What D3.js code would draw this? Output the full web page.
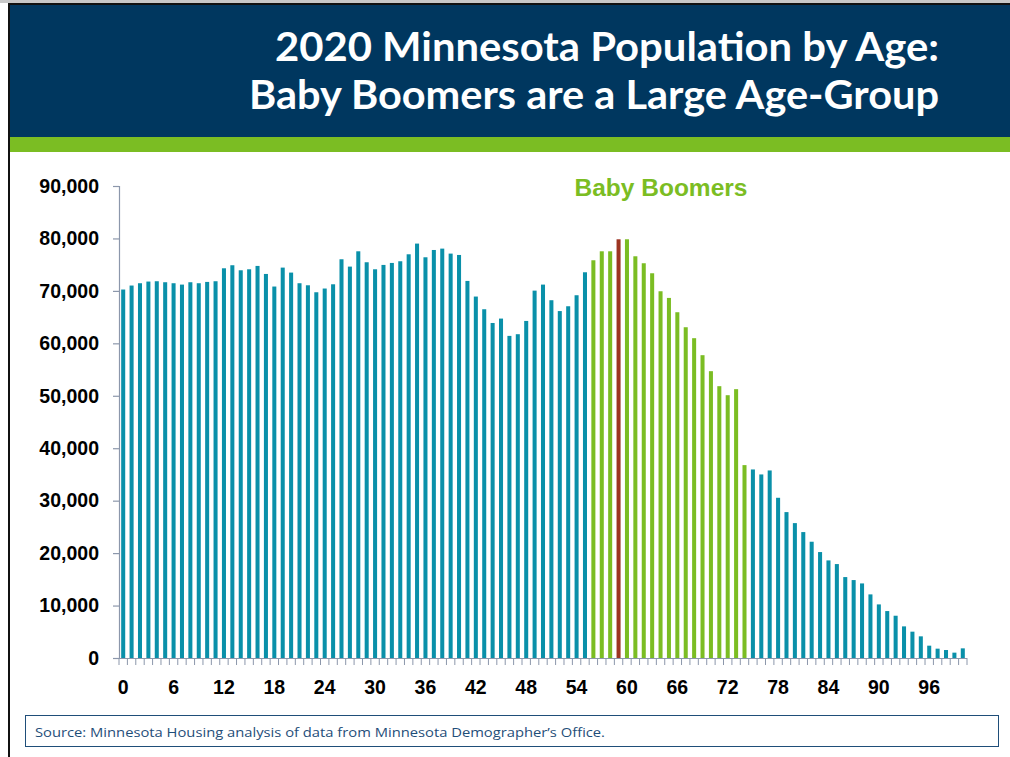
<!DOCTYPE html>
<html>
<head>
<meta charset="utf-8">
<script src="https://cdn.jsdelivr.net/npm/d3@7"></script>
<style>
  html, body { margin: 0; padding: 0; background: #fff; }
  svg { display: block; }
</style>
</head>
<body>
<svg id="chart" width="1010" height="757"></svg>
<script>
// Single-year ages 0..100
const ages = d3.range(0, 101);

// 2020 Minnesota population at each single year of age
const population = [
  70260, 71020, 71460, 71780, 71840, 71650, 71460, 71200, 71650, 71460,
  71710, 71840, 74310, 74890, 73930, 74120, 74760, 73230, 70830, 74440,
  73490, 71460, 71070, 69740, 70450, 71260, 76030, 74630, 77550, 75460,
  74120, 74950, 75330, 75650, 76980, 79020, 76410, 77800, 78060, 77110,
  76850, 71900, 68920, 66500, 63880, 64720, 61420, 61740, 64270, 70050,
  71200, 68220, 66150, 67070, 69170, 73550, 75840, 77550, 77550, 79840,
  79840, 76600, 75270, 73360, 69930, 68660, 65930, 63070, 60980, 57740,
  54690, 51830, 50110, 51260, 36780, 35950, 35000, 35760, 30550, 27820,
  25720, 24010, 22170, 20200, 18610, 17910, 15430, 14860, 14220, 12130,
  10220, 8950, 8060, 6030, 5020, 4130, 2350, 1780, 1520, 1020,
  1840
];

// Baby Boomer ages in 2020 and the single highlighted age
const boomerAges = d3.range(56, 75);
const highlightAge = 59;

const yTicks = d3.range(0, 90001, 10000);
const xTickLabels = d3.range(0, 97, 6);

const titleLines = ["2020 Minnesota Population by Age:", "Baby Boomers are a Large Age-Group"];
const boomerLabel = "Baby Boomers";
const sourceText = "Source:  Minnesota Housing analysis of data from Minnesota Demographer\u2019s Office.";

const COLORS = {
  navy: "#00375f",
  green: "#7bbd23",
  teal: "#0a90a9",
  red: "#9c3422",
  axis: "#8c97ab",
  source: "#1f4e79"
};

const svg = d3.select("#chart");

// ---- Header band ----
svg.append("rect").attr("x", 0).attr("y", 0).attr("width", 1010).attr("height", 3).attr("fill", "#c8c8c8");
svg.append("rect").attr("x", 8).attr("y", 3).attr("width", 1002).attr("height", 2).attr("fill", "#111");
svg.append("rect").attr("x", 8).attr("y", 3).attr("width", 2).attr("height", 754).attr("fill", "#111");
svg.append("rect").attr("x", 10).attr("y", 5).attr("width", 1000).attr("height", 132).attr("fill", COLORS.navy);
svg.append("rect").attr("x", 10).attr("y", 137).attr("width", 1000).attr("height", 15).attr("fill", COLORS.green);

const titleWidths = [664, 690];
const titleBaselines = [61, 109];
titleLines.forEach((t, i) => {
  svg.append("text")
    .attr("x", 939)
    .attr("y", titleBaselines[i])
    .attr("text-anchor", "end")
    .attr("font-family", "Lato, 'Open Sans', sans-serif")
    .attr("font-weight", 700)
    .attr("font-size", 40)
    .attr("fill", "#fff")
    .attr("textLength", titleWidths[i])
    .attr("lengthAdjust", "spacingAndGlyphs")
    .text(t);
});

// ---- Chart ----
const plot = { left: 119, right: 967, top: 186, bottom: 658 };

const x = d3.scaleBand()
  .domain(ages)
  .range([plot.left, plot.right])
  .paddingInner(0.52)
  .paddingOuter(0.26);

const y = d3.scaleLinear()
  .domain([0, 90000])
  .range([plot.bottom, plot.top]);

function barColor(age) {
  if (age === highlightAge) return COLORS.red;
  if (boomerAges.includes(age)) return COLORS.green;
  return COLORS.teal;
}

svg.append("g")
  .selectAll("rect")
  .data(ages)
  .join("rect")
  .attr("x", d => x(d))
  .attr("y", d => y(population[d]))
  .attr("width", x.bandwidth())
  .attr("height", d => y(0) - y(population[d]))
  .attr("fill", d => barColor(d));

// Y axis
const yAxis = svg.append("g")
  .attr("transform", `translate(${plot.left},0)`)
  .call(d3.axisLeft(y).tickValues(yTicks).tickFormat(d3.format(",")).tickSize(6).tickPadding(14));
yAxis.select(".domain").attr("stroke", COLORS.axis).attr("stroke-width", 1.2);
yAxis.selectAll(".tick line").attr("stroke", COLORS.axis).attr("stroke-width", 1.2);
yAxis.selectAll(".tick text")
  .attr("font-family", "'Liberation Sans', Arial, sans-serif")
  .attr("font-weight", 700)
  .attr("font-size", 19.5)
  .attr("fill", "#000");

// X axis line with boundary ticks between bars
const step = x.step();
const firstEdge = x(0) - step * x.paddingInner() / 2;
const boundaries = d3.range(0, ages.length + 1).map(i => firstEdge + i * step);

svg.append("line")
  .attr("x1", plot.left).attr("x2", plot.right)
  .attr("y1", plot.bottom + 0.5).attr("y2", plot.bottom + 0.5)
  .attr("stroke", COLORS.axis).attr("stroke-width", 1.2);

svg.append("g")
  .selectAll("line")
  .data(boundaries)
  .join("line")
  .attr("x1", d => d).attr("x2", d => d)
  .attr("y1", plot.bottom).attr("y2", plot.bottom + 7)
  .attr("stroke", COLORS.axis).attr("stroke-width", 1);

// X labels
const xAxis = svg.append("g")
  .attr("transform", `translate(0,${plot.bottom})`)
  .call(d3.axisBottom(x).tickValues(xTickLabels).tickSize(0).tickPadding(22));
xAxis.select(".domain").remove();
xAxis.selectAll(".tick text")
  .attr("font-family", "'Liberation Sans', Arial, sans-serif")
  .attr("font-weight", 700)
  .attr("font-size", 19.5)
  .attr("fill", "#000");

// Baby Boomers label
svg.append("text")
  .attr("x", 661)
  .attr("y", 196)
  .attr("text-anchor", "middle")
  .attr("font-family", "'Liberation Sans', Arial, sans-serif")
  .attr("font-weight", 700)
  .attr("font-size", 24.5)
  .attr("fill", COLORS.green)
  .text(boomerLabel);

// ---- Source box ----
svg.append("rect")
  .attr("x", 25.5).attr("y", 715.5)
  .attr("width", 973).attr("height", 31)
  .attr("fill", "#fff")
  .attr("stroke", COLORS.source)
  .attr("stroke-width", 1);

svg.append("text")
  .attr("x", 35)
  .attr("y", 737)
  .attr("font-family", "'Open Sans', 'Noto Sans', sans-serif")
  .attr("font-size", 13.5)
  .attr("fill", COLORS.source)
  .attr("textLength", 570)
  .attr("lengthAdjust", "spacingAndGlyphs")
  .text(sourceText);
</script>
</body>
</html>
